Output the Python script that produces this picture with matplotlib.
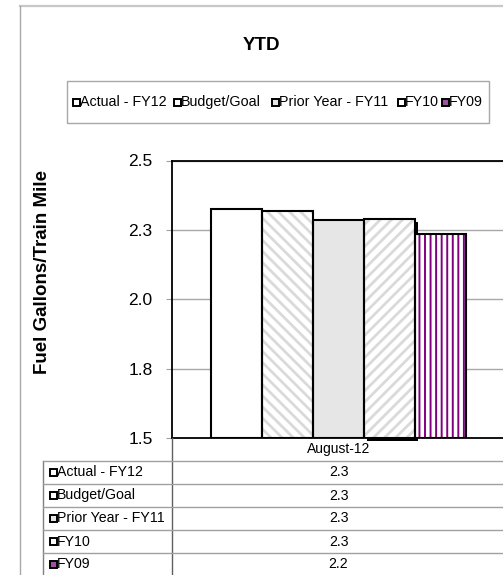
import matplotlib
matplotlib.use('Agg')
import matplotlib.pyplot as plt
from matplotlib.patches import Rectangle
from matplotlib.lines import Line2D
from matplotlib.transforms import offset_copy

# fuel efficiency, year to date
series = ['Actual - FY12', 'Budget/Goal', 'Prior Year - FY11', 'FY10', 'FY09']
values = [2.325, 2.318, 2.286, 2.289, 2.234]
category = 'August-12'
yticks = [1.5, 1.75, 2.0, 2.25, 2.5]
ytick_labels = ['1.5', '1.8', '2.0', '2.3', '2.5']

plt.rcParams['font.family'] = ['Liberation Sans', 'DejaVu Sans']

W, H = 503, 575
fig = plt.figure(figsize=(W / 100, H / 100), dpi=100)


def fx(x):
    return x / W


def fy(y):
    return 1 - y / H


def hline(x0, x1, y, color='#a0a0a0', lw=1.0):
    fig.add_artist(Line2D([fx(x0), fx(x1)], [fy(y), fy(y)], color=color, lw=lw))


def vline(x, y0, y1, color='#a0a0a0', lw=1.0):
    fig.add_artist(Line2D([fx(x), fx(x)], [fy(y0), fy(y1)], color=color, lw=lw))


# outer chart frame
hline(19.5, 510, 6, color='#c8c8c8', lw=1.6)
vline(19.5, 6, 580, color='#a8a8a8')

fig.text(fx(261), fy(45), 'YTD', ha='center', va='center', fontsize=13.5, fontweight='bold')

# legend box
fig.add_artist(Rectangle((fx(67), fy(123)), fx(489) - fx(67), fy(81) - fy(123),
                         fill=False, edgecolor='#a8a8a8', lw=1.0))

styles = [
    dict(face='white', hatch=None, hcolor=None, hlw=1),
    dict(face='white', hatch='\\\\\\', hcolor='#dadada', hlw=2.0),
    dict(face='#e6e6e6', hatch=None, hcolor=None, hlw=1),
    dict(face='white', hatch='///', hcolor='#dadada', hlw=2.0),
    dict(face='white', hatch='|||', hcolor='#800080', hlw=1.4),
]
swatch = ['white', 'white', '#e6e6e6', 'white', '#a050a0']

legend_x = [72.5, 174, 272, 397.5, 442]
for x, name, c in zip(legend_x, series, swatch):
    fig.add_artist(Rectangle((fx(x), fy(105.5)), 7 / W, 7 / H, facecolor=c,
                             edgecolor='black', lw=1.4))
    fig.text(fx(x + 7), fy(102), name, ha='left', va='center', fontsize=10.3)

ax = fig.add_axes([fx(172), fy(438), fx(505) - fx(172), fy(160.5) - fy(438)])
ylo, yhi = yticks[0], yticks[-1]
ax.set_ylim(ylo, yhi)
ax.set_xlim(-0.5, 0.5)

bw = 0.1535
for i, (v, st) in enumerate(zip(values, styles)):
    x = (i - 2) * bw
    if series[i] == 'FY10':
        shadow = ax.bar(x, v - ylo, bw, bottom=ylo, color='black', lw=0, zorder=2)[0]
        shadow.set_transform(offset_copy(ax.transData, fig=fig, x=3, y=-3, units='dots'))
        shadow.set_clip_on(False)
    if st['hatch']:
        with plt.rc_context({'hatch.linewidth': st['hlw']}):
            ax.bar(x, v - ylo, bw, bottom=ylo, facecolor=st['face'],
                   edgecolor=st['hcolor'], hatch=st['hatch'], lw=0, zorder=3)
    else:
        ax.bar(x, v - ylo, bw, bottom=ylo, facecolor=st['face'], lw=0, zorder=3)
    ax.bar(x, v - ylo, bw, bottom=ylo, fill=False, edgecolor='black', lw=1.5, zorder=4)

ax.set_yticks(yticks)
ax.set_yticklabels(ytick_labels, fontsize=12.5)
ax.tick_params(axis='y', length=4, color='#a0a0a0', pad=10)
ax.set_xticks([0])
ax.set_xticklabels([category], fontsize=10)
ax.tick_params(axis='x', length=0, pad=3)
ax.yaxis.grid(True, color='#a8a8a8', lw=1.0)
ax.set_axisbelow(True)
for side in ['left', 'bottom', 'top']:
    ax.spines[side].set_color('black')
    ax.spines[side].set_linewidth(1.3)
ax.spines['right'].set_visible(False)

fig.text(fx(42.5), fy(272), 'Fuel Gallons/Train Mile', rotation=90, ha='center',
         va='center', fontsize=13.5, fontweight='bold')

# data table below the plot
row_top, row_h = 461, 23
vline(172, 438, 580, color='#606060')
vline(43, row_top, 580, color='#808080')
for r in range(len(series) + 1):
    hline(43, 510, row_top + r * row_h, color='#a0a0a0')
for r, (name, v, c) in enumerate(zip(series, values, swatch)):
    yc = row_top + r * row_h + row_h / 2
    fig.add_artist(Rectangle((fx(49.5), fy(yc + 3.5)), 7 / W, 7 / H, facecolor=c,
                             edgecolor='black', lw=1.4))
    fig.text(fx(57), fy(yc), name, ha='left', va='center', fontsize=10.2)
    fig.text(fx(338.5), fy(yc), f'{v:.1f}', ha='center', va='center', fontsize=10.2)

fig.savefig('out.png', dpi=100)
